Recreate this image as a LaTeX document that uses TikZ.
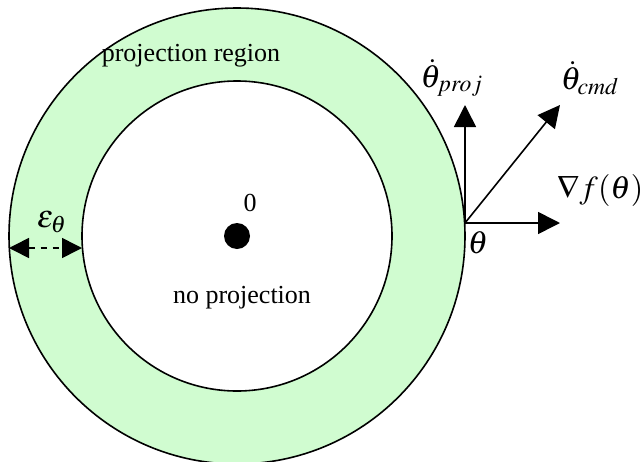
\documentclass[tikz,border=0pt]{standalone}
\usepackage{mathptmx}
\usepackage{fontspec}
\setmainfont{Liberation Serif}
\usetikzlibrary{arrows.meta}
\definecolor{ringgreen}{RGB}{208,252,208}
\tikzset{
  ring/.style   = {draw, circle, line width=0.8pt, inner sep=0pt},
  vec/.style    = {-{Triangle[length=11pt, width=11pt]}, line width=0.8pt},
  gap/.style    = {{Triangle[length=10pt, width=10pt]}-{Triangle[length=10pt, width=10pt]},
                   dashed, line width=0.8pt},
  txt/.style    = {font=\fontsize{13}{15}\selectfont, inner sep=1pt},
  sym/.style    = {font=\fontsize{16}{18}\selectfont, inner sep=1pt},
}

\begin{document}
\begin{tikzpicture}[x=0.5pt, y=-0.5pt]
  \useasboundingbox (0,0) rectangle (643,461);
  \node[ring, fill=ringgreen, minimum size=228pt] (outer) at (237,236) {};
  \node[ring, fill=white,     minimum size=155pt] (inner) at (237,236) {};
  \node[circle, fill=black, minimum size=13pt, inner sep=0pt] (orig) at (237,236) {};
  \node[txt] (zero)    at (250,203) {0};
  \node[txt] (noproj)  at (242,298) {no projection};
  \node[txt] (projreg) at (191,56)  {projection region};
  % vectors at the boundary
  \coordinate (th) at (465,223);
  \coordinate (up) at (465,105);
  \coordinate (cm) at (560,105);
  \coordinate (gr) at (560,223);
  \draw[vec] (th) -- (up);
  \draw[vec] (th) -- (cm);
  \draw[vec] (th) -- (gr);
  \node[sym] (thproj) at (452,78)  {$\dot{\theta}_{proj}$};
  \node[sym] (thcmd)  at (590,78)  {$\dot{\theta}_{cmd}$};
  \node[sym] (grad)   at (600,190) {$\nabla f(\theta)$};
  \node[sym] (thpt)   at (478,243) {$\theta$};
  % ring width
  \coordinate (gapl) at (9,248);
  \coordinate (gapr) at (82,248);
  \draw[gap] (gapl) -- (gapr);
  \node[sym] (eps) at (52,222) {$\varepsilon_{\theta}$};
\end{tikzpicture}
\end{document}
